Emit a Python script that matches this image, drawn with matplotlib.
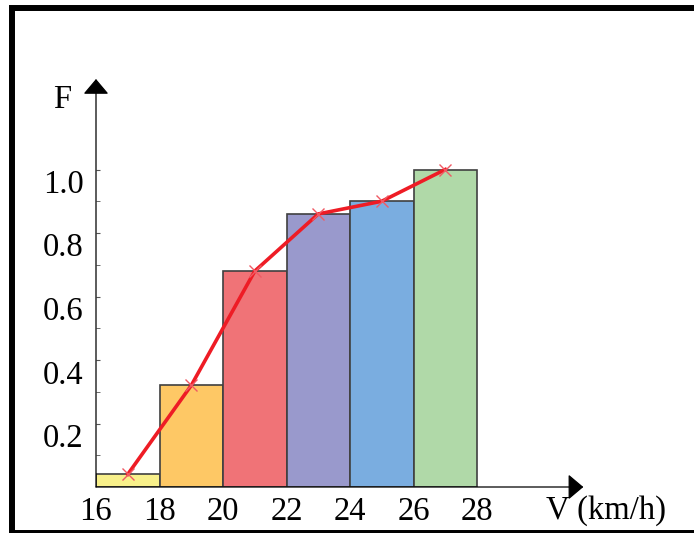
import matplotlib.pyplot as plt
from matplotlib.patches import Rectangle

# cumulative frequency per speed class
bin_edges = [16, 18, 20, 22, 24, 26, 28]
freq = [0.04, 0.32, 0.68, 0.86, 0.90, 1.0]
bar_colors = ['#f8f08a', '#fec865', '#f07377', '#9999cc', '#7aade0', '#b0d9a8']
x_ticks = [16, 18, 20, 22, 24, 26, 28]
y_ticks = [0.2, 0.4, 0.6, 0.8, 1.0]
y_minor = [0.1, 0.2, 0.3, 0.4, 0.5, 0.6, 0.7, 0.8, 0.9, 1.0]

W, H = 694, 533
FS = 23.5
plt.rcParams['font.family'] = 'Liberation Serif'
fig = plt.figure(figsize=(W / 100, H / 100), dpi=100)

# axes placed so 16 -> x=96px, 0 -> y=487px
ax = fig.add_axes([96 / W, (H - 487) / H, 508 / W, 412.75 / H])
ax.set_xlim(16, 32)
ax.set_ylim(0, 1.3)

lefts = bin_edges[:-1]
widths = [b - a for a, b in zip(bin_edges[:-1], bin_edges[1:])]
ax.bar(lefts, freq, width=widths, align='edge', color=bar_colors,
       edgecolor='#404040', linewidth=1.2, zorder=2)

mids = [a + w / 2 for a, w in zip(lefts, widths)]
ax.plot(mids, freq, color='#ee1c25', linewidth=2.6, zorder=3)
ax.plot(mids, freq, linestyle='none', marker='x', markersize=9,
        markeredgecolor='#f05a64', markeredgewidth=1.0, zorder=4)

for s in ax.spines.values():
    s.set_visible(False)

# axes with arrows
head = '-|>,head_length=0.95,head_width=0.8'
ax.annotate('', xy=(16, 1.285), xytext=(16, 0), annotation_clip=False,
            arrowprops=dict(arrowstyle=head, mutation_scale=10,
                            color='black', lw=0.9, shrinkA=0, shrinkB=0))
ax.annotate('', xy=(31.35, 0), xytext=(16, 0), annotation_clip=False,
            arrowprops=dict(arrowstyle=head, mutation_scale=10,
                            color='black', lw=0.9, shrinkA=0, shrinkB=0))

ax.set_xticks(x_ticks)
ax.set_xticklabels([str(t) for t in x_ticks])
ax.tick_params(axis='x', length=0, pad=7, labelsize=FS)

ax.set_yticks(y_minor, minor=True)
ax.set_yticks(y_ticks)
ax.set_yticklabels(['0.2', '0.4', '0.6', '0.8', '1.0'])
ax.tick_params(axis='y', which='both', direction='in', length=3,
               color='#555555', pad=9, labelsize=FS)
for lab in ax.get_yticklabels():
    lab.set_va('top')

fig.text(62 / W, 1 - 100 / H, 'F', fontsize=FS, ha='center', va='center')
fig.text(546 / W, 1 - 511 / H, 'V (km/h)', fontsize=FS, ha='left', va='center')

# black frame around picture
fig.add_artist(Rectangle((12 / W, 0), 1.0, 1 - 8 / H, transform=fig.transFigure,
                         fill=False, edgecolor='black', linewidth=4.3,
                         clip_on=False))

fig.savefig('out.png', dpi=100)
